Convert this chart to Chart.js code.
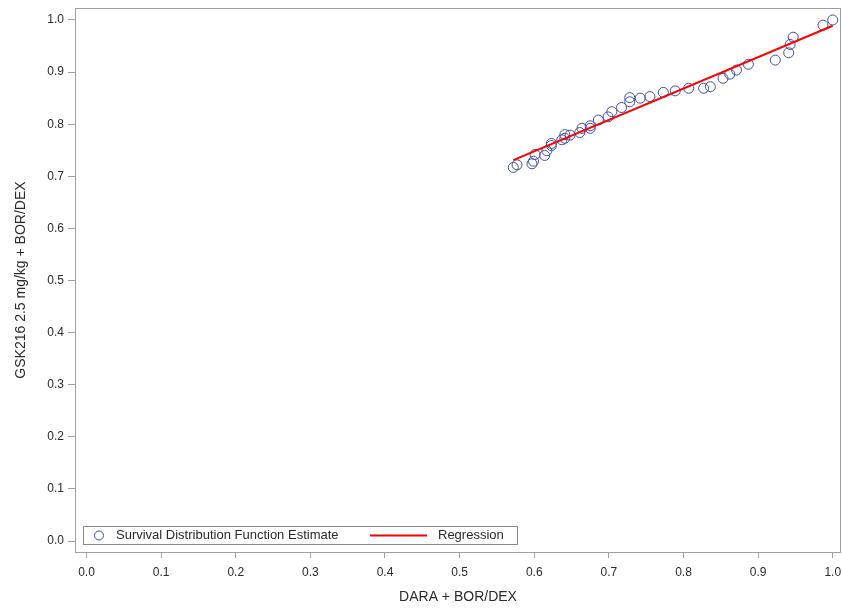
<!DOCTYPE html>
<html>
<head>
<meta charset="utf-8">
<script src="https://cdn.jsdelivr.net/npm/chart.js@4.4.1/dist/chart.umd.min.js"></script>
<style>
  body { margin: 0; background: #fff; }
  canvas { display: block; }
</style>
</head>
<body>
<canvas id="chart" width="842" height="610"></canvas>
<script>
// survival estimates, DARA arm (x) vs GSK216 arm (y)
const survX = [0.572, 0.577, 0.597, 0.599, 0.601, 0.614, 0.617, 0.623, 0.623, 0.637,
  0.641, 0.641, 0.648, 0.661, 0.664, 0.675, 0.675, 0.686, 0.699, 0.704,
  0.717, 0.728, 0.728, 0.742, 0.755, 0.773, 0.789, 0.807, 0.827, 0.836,
  0.853, 0.862, 0.871, 0.887, 0.923, 0.941, 0.943, 0.947, 0.987, 1.0];
const survY = [0.717, 0.722, 0.724, 0.729, 0.742, 0.740, 0.749, 0.759, 0.763, 0.770,
  0.773, 0.780, 0.779, 0.784, 0.792, 0.792, 0.797, 0.808, 0.814, 0.824,
  0.832, 0.843, 0.851, 0.850, 0.853, 0.861, 0.864, 0.869, 0.869, 0.872,
  0.888, 0.896, 0.904, 0.915, 0.923, 0.937, 0.953, 0.967, 0.990, 1.0];

// regression line end points
const regX = [0.572, 1.0];
const regY = [0.731, 0.989];

const xTicks = [0.0, 0.1, 0.2, 0.3, 0.4, 0.5, 0.6, 0.7, 0.8, 0.9, 1.0];
const yTicks = [0.0, 0.1, 0.2, 0.3, 0.4, 0.5, 0.6, 0.7, 0.8, 0.9, 1.0];

const FONT = '"Liberation Sans", Arial, sans-serif';
const TEXT = '#2b2b2b';
const FRAME = '#a0a0a0';

// box around the plot + legend inside bottom left
const framePlugin = {
  id: 'frame',
  afterDraw(chart) {
    const { ctx, chartArea: a } = chart;
    ctx.save();
    ctx.strokeStyle = FRAME;
    ctx.lineWidth = 1;
    ctx.strokeRect(a.left + 0.5, a.top + 0.5, a.right - a.left - 1, a.bottom - a.top);

    // legend
    const ds = chart.data.datasets;
    const bx = a.left + 8, by = a.bottom - 26;
    ctx.strokeStyle = '#8a8a8a';
    ctx.strokeRect(bx + 0.5, by + 0.5, 434, 18);
    const cy = by + 9.5;
    ctx.font = '13px ' + FONT;
    ctx.fillStyle = TEXT;
    ctx.textBaseline = 'middle';
    ctx.beginPath();
    ctx.arc(bx + 16, cy, 4.5, 0, Math.PI * 2);
    ctx.strokeStyle = ds[0].borderColor;
    ctx.stroke();
    ctx.fillText(ds[0].label, bx + 33, cy);
    ctx.beginPath();
    ctx.moveTo(bx + 287, cy);
    ctx.lineTo(bx + 344, cy);
    ctx.strokeStyle = ds[1].borderColor;
    ctx.lineWidth = 2;
    ctx.stroke();
    ctx.fillText(ds[1].label, bx + 355, cy);
    ctx.restore();
  }
};

new Chart(document.getElementById('chart'), {
  type: 'scatter',
  data: {
    datasets: [
      {
        label: 'Survival Distribution Function Estimate',
        data: survX.map((x, i) => ({ x: x, y: survY[i] })),
        pointStyle: 'circle',
        pointRadius: 5,
        pointHoverRadius: 5,
        borderColor: '#3f4fa3',
        backgroundColor: 'rgba(0,0,0,0)',
        borderWidth: 1,
        order: 2
      },
      {
        type: 'line',
        label: 'Regression',
        data: regX.map((x, i) => ({ x: x, y: regY[i] })),
        borderColor: '#ff0000',
        borderWidth: 2,
        pointRadius: 0,
        fill: false,
        order: 1
      }
    ]
  },
  options: {
    responsive: false,
    devicePixelRatio: 1,
    animation: false,
    layout: { autoPadding: false, padding: { top: 8, right: 1, left: 0, bottom: 0 } },
    plugins: {
      legend: { display: false },
      tooltip: { enabled: false }
    },
    scales: {
      x: {
        type: 'linear',
        min: -0.0154,
        max: 1.0111,
        afterBuildTicks: s => { s.ticks = xTicks.map(v => ({ value: v })); },
        afterFit: s => { s.height = 58; s.paddingLeft = 0; s.paddingRight = 0; },
        grid: { drawOnChartArea: false, tickLength: 6, color: FRAME },
        border: { display: false },
        ticks: {
          callback: v => Number(v).toFixed(1),
          font: { family: FONT, size: 12 },
          color: TEXT,
          padding: 7,
          maxRotation: 0
        },
        title: {
          display: true,
          text: 'DARA + BOR/DEX',
          font: { family: FONT, size: 14 },
          color: TEXT,
          padding: { top: 4, bottom: 4 }
        }
      },
      y: {
        type: 'linear',
        min: -0.0211,
        max: 1.023,
        afterBuildTicks: s => { s.ticks = yTicks.map(v => ({ value: v })); },
        afterFit: s => { s.width = 75; s.paddingTop = 0; s.paddingBottom = 0; },
        grid: { drawOnChartArea: false, tickLength: 7, color: FRAME },
        border: { display: false },
        ticks: {
          callback: v => Number(v).toFixed(1),
          font: { family: FONT, size: 12 },
          color: TEXT,
          padding: 4
        },
        title: {
          display: true,
          text: 'GSK216 2.5 mg/kg + BOR/DEX',
          font: { family: FONT, size: 14 },
          color: TEXT,
          padding: { top: 13, bottom: 0 }
        }
      }
    }
  },
  plugins: [framePlugin]
});
</script>
</body>
</html>
